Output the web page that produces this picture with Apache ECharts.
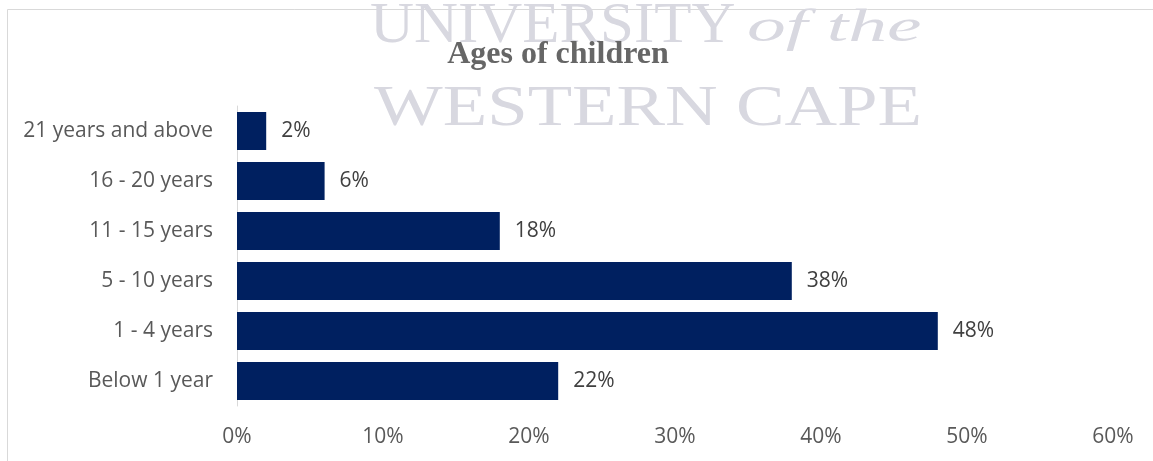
<!DOCTYPE html>
<html>
<head>
<meta charset="utf-8">
<script src="https://cdn.jsdelivr.net/npm/echarts@6/dist/echarts.min.js"></script>
<style>html,body{margin:0;padding:0;background:#fff}#c{width:1153px;height:461px}</style>
</head>
<body>
<div id="c"></div>
<script>
const categories = ['Below 1 year', '1 - 4 years', '5 - 10 years', '11 - 15 years', '16 - 20 years', '21 years and above'];
const values = [22, 48, 38, 18, 6, 2];
const xTicks = [0, 10, 20, 30, 40, 50, 60];
const titleText = 'Ages of children';

const chart = echarts.init(document.getElementById('c'));
chart.setOption({
  animation: false,
  backgroundColor: '#fff',
  graphic: [
    { type: 'rect', shape: { x: 7.5, y: 9.5, width: 1200, height: 500 }, style: { fill: 'none', stroke: '#d9d9d9', lineWidth: 1 }, z: -10 },
    { type: 'text', x: 370, y: -2, scaleX: 1.05, style: { text: 'UNIVERSITY', font: '58px "Liberation Serif"', fill: '#d8d8e0', textVerticalAlign: 'top' }, z: -5 },
    { type: 'text', x: 747, y: 5, scaleX: 1.65, style: { text: 'of the', font: 'italic 47px "Liberation Serif"', fill: '#d8d8e0', textVerticalAlign: 'top' }, z: -5 },
    { type: 'text', x: 374, y: 81, scaleX: 1.255, style: { text: 'WESTERN CAPE', font: '58px "Liberation Serif"', fill: '#d8d8e0', textVerticalAlign: 'top' }, z: -5 }
  ],
  title: {
    text: titleText,
    left: 553, top: 34, textAlign: 'center',
    textStyle: { fontFamily: '"Liberation Serif"', fontWeight: 'bold', fontSize: 32, color: '#666666' }
  },
  grid: { left: 237, right: 40, top: 106, bottom: 55, containLabel: false },
  xAxis: {
    type: 'value', min: 0, max: 60, interval: 10,
    axisLine: { show: false }, axisTick: { show: false }, splitLine: { show: false },
    axisLabel: { formatter: v => xTicks.includes(v) ? v + '%' : '', fontFamily: '"Open Sans"', fontSize: 21, color: '#595959', margin: 21 }
  },
  yAxis: {
    type: 'category', data: categories,
    axisLine: { show: true, lineStyle: { color: '#d9d9d9', width: 1 } },
    axisTick: { show: false },
    axisLabel: { fontFamily: '"Open Sans"', fontSize: 21, color: '#595959', margin: 24 }
  },
  series: [{
    type: 'bar', data: values, barWidth: 38,
    itemStyle: { color: '#002060' },
    label: { show: true, position: 'right', distance: 15, formatter: p => p.value + '%', fontFamily: '"Open Sans"', fontSize: 21, color: '#404040' }
  }]
});
</script>
</body>
</html>
